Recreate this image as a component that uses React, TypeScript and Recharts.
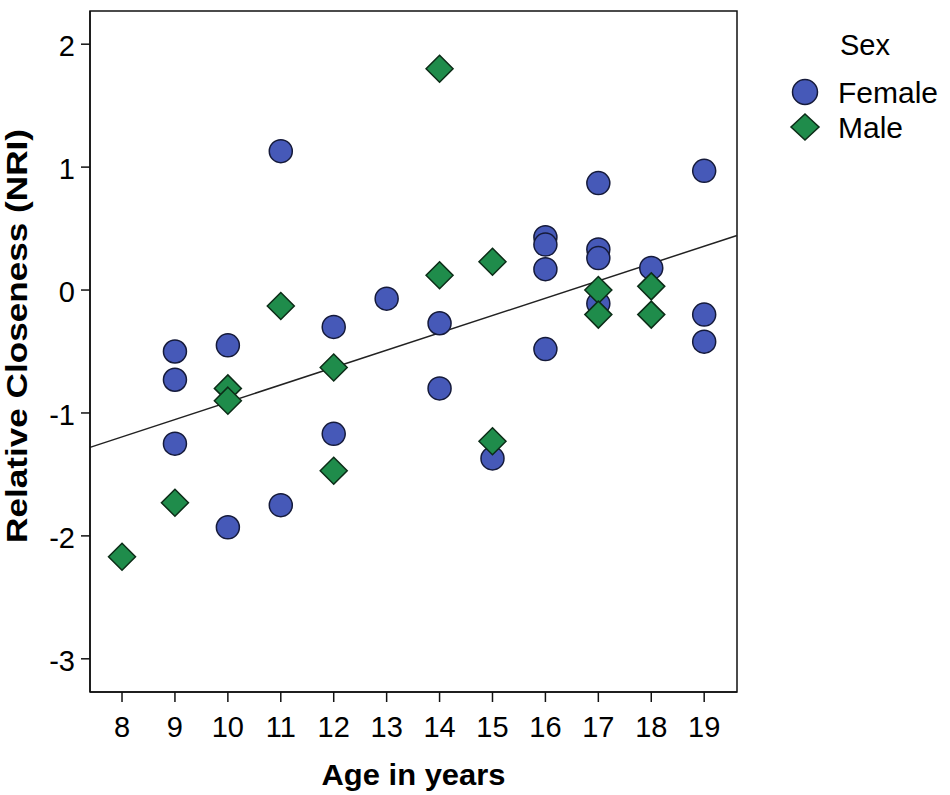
import { ReferenceArea, ReferenceLine, Scatter, ScatterChart, XAxis, YAxis } from "recharts";

const FONT = '"Liberation Sans", Arial, sans-serif';

const ageTicks = [8, 9, 10, 11, 12, 13, 14, 15, 16, 17, 18, 19];
const scoreTicks = [-3, -2, -1, 0, 1, 2];
const xDomain = [7.395, 19.62];
const yDomain = [-3.27, 2.27];

const femaleAge = [9, 9, 9, 10, 10, 11, 11, 12, 12, 13, 14, 14, 15, 16, 16, 16, 16, 17, 17, 17, 17, 18, 19, 19, 19];
const femaleScore = [-0.5, -0.73, -1.25, -0.45, -1.93, 1.13, -1.75, -0.3, -1.17, -0.07, -0.27, -0.8, -1.37, 0.43, 0.37, 0.17, -0.48, 0.87, 0.33, 0.26, -0.11, 0.18, 0.97, -0.2, -0.42];

const maleAge = [8, 9, 10, 10, 11, 12, 12, 14, 14, 15, 15, 17, 17, 18, 18];
const maleScore = [-2.17, -1.73, -0.8, -0.9, -0.13, -0.63, -1.47, 1.8, 0.12, 0.23, -1.23, 0, -0.2, 0.03, -0.2];

// fit line end points
const fitStart = { x: 7.395, y: -1.28 };
const fitEnd = { x: 19.62, y: 0.444 };

const legendItems = [
  { name: "Female", shape: "circle" },
  { name: "Male", shape: "diamond" },
];

const BLUE = "#4659b8";
const BLUE_EDGE = "#151a3a";
const GREEN = "#1f8c4b";
const GREEN_EDGE = "#0c2c17";

const female = femaleAge.map((x, i) => ({ x, y: femaleScore[i] }));
const male = maleAge.map((x, i) => ({ x, y: maleScore[i] }));

const CircleDot = (p: any) => (
  <circle cx={p.cx} cy={p.cy} r={11.5} fill={BLUE} stroke={BLUE_EDGE} strokeWidth={1.5} />
);

const DiamondDot = (p: any) => (
  <polygon
    points={`${p.cx},${p.cy - 13.5} ${p.cx + 13.5},${p.cy} ${p.cx},${p.cy + 13.5} ${p.cx - 13.5},${p.cy}`}
    fill={GREEN}
    stroke={GREEN_EDGE}
    strokeWidth={1.5}
  />
);

const YTick = (p: any) => (
  <text x={p.x} y={p.y + 2} dy="0.355em" textAnchor="end" fontSize={29} fontFamily={FONT} fill="#000">
    {p.payload.value}
  </text>
);

export default function App() {
  return (
    <div style={{ position: "absolute", left: 0, top: 0, width: 950, height: 795, background: "#fff" }}>
      <ScatterChart width={950} height={795} margin={{ top: 11, right: 213, bottom: 0, left: 0 }}>
        <ReferenceArea
          x1={xDomain[0]}
          x2={xDomain[1]}
          y1={yDomain[0]}
          y2={yDomain[1]}
          fill="none"
          stroke="#111"
          strokeWidth={1.5}
          ifOverflow="visible"
        />
        <XAxis
          type="number"
          dataKey="x"
          domain={xDomain}
          ticks={ageTicks}
          allowDataOverflow
          interval={0}
          height={103}
          tickSize={10}
          tickMargin={14}
          axisLine={{ stroke: "#111", strokeWidth: 1.5 }}
          tickLine={{ stroke: "#111", strokeWidth: 1.5 }}
          tick={{ fontSize: 29, fill: "#000", fontFamily: FONT }}
          label={{
            content: () => (
              <text
                x={413.5}
                y={785}
                textAnchor="middle"
                fontSize={29}
                fontWeight="bold"
                fontFamily={FONT}
                textLength={184}
                lengthAdjust="spacingAndGlyphs"
              >
                Age in years
              </text>
            ),
          }}
        />
        <YAxis
          type="number"
          dataKey="y"
          domain={yDomain}
          ticks={scoreTicks}
          allowDataOverflow
          interval={0}
          width={90}
          tickSize={9}
          tickMargin={6}
          axisLine={{ stroke: "#111", strokeWidth: 1.5 }}
          tickLine={{ stroke: "#111", strokeWidth: 1.5 }}
          tick={<YTick />}
          label={{
            content: () => (
              <text
                transform="translate(27,336) rotate(-90)"
                textAnchor="middle"
                fontSize={30}
                fontWeight="bold"
                fontFamily={FONT}
                textLength={414}
                lengthAdjust="spacingAndGlyphs"
              >
                Relative Closeness (NRI)
              </text>
            ),
          }}
        />
        <ReferenceLine segment={[fitStart, fitEnd]} stroke="#222" strokeWidth={1.5} ifOverflow="visible" />
        <Scatter name="Female" data={female} shape={<CircleDot />} isAnimationActive={false} />
        <Scatter name="Male" data={male} shape={<DiamondDot />} isAnimationActive={false} />
      </ScatterChart>
      <svg width={950} height={795} style={{ position: "absolute", left: 0, top: 0, pointerEvents: "none" }}>
        <text x={840} y={55} fontSize={29} fontFamily={FONT} fill="#000">
          Sex
        </text>
        {legendItems.map((item, i) => {
          const cy = 92 + i * 35;
          return (
            <g key={item.name}>
              {item.shape === "circle" ? (
                <circle cx={805} cy={cy} r={12.5} fill={BLUE} stroke={BLUE_EDGE} strokeWidth={1.5} />
              ) : (
                <polygon
                  points={`805,${cy - 13} ${805 + 14},${cy} 805,${cy + 13} ${805 - 14},${cy}`}
                  fill={GREEN}
                  stroke={GREEN_EDGE}
                  strokeWidth={1.5}
                />
              )}
              <text x={838} y={cy + 11} fontSize={30} fontFamily={FONT} fill="#000">
                {item.name}
              </text>
            </g>
          );
        })}
      </svg>
    </div>
  );
}
